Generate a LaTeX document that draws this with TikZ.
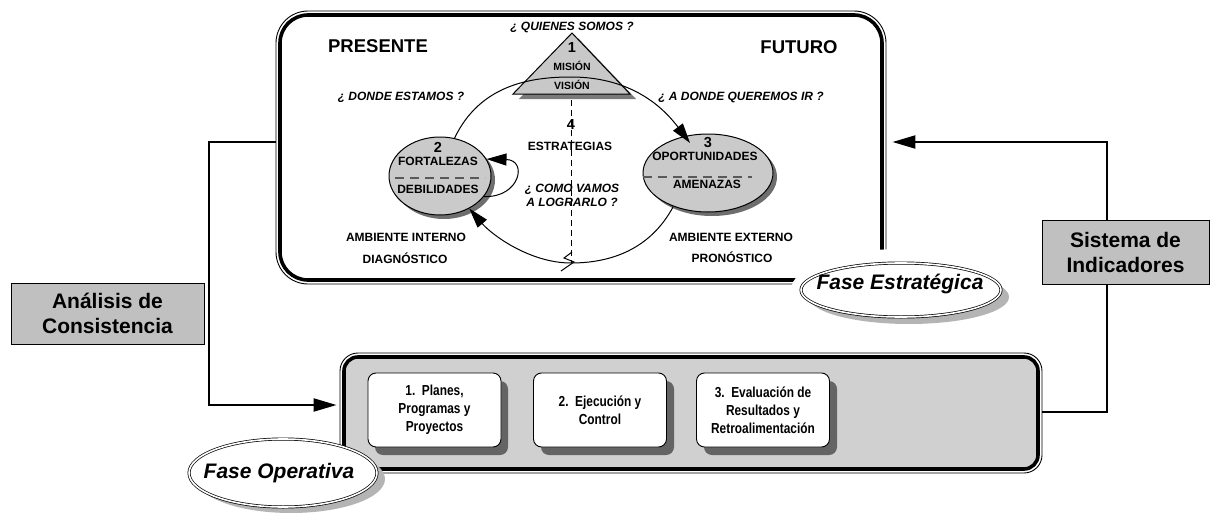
\documentclass[tikz,border=0pt]{standalone}
\usepackage{fontspec}
\setmainfont{Liberation Sans}
\newfontfamily\narrowsans[FakeStretch=0.82]{Liberation Sans}
\usetikzlibrary{arrows.meta,shapes.geometric}
\definecolor{opgray}{HTML}{D0D0D0}
\definecolor{lblgray}{HTML}{C0C0C0}
\definecolor{boxshadow}{HTML}{646464}
\definecolor{ovalgray}{HTML}{CACACA}
\definecolor{ovalshadow}{HTML}{6E6E6E}
\definecolor{fasshadow}{HTML}{B4B4B4}
\definecolor{trishadow}{HTML}{7A7A7A}
\definecolor{trigray}{HTML}{C8C8C8}
\begin{document}
\begin{tikzpicture}[x=1pt,y=-1pt,
  txt/.style={inner sep=0pt, align=center, font=\fontsize{12}{14}\selectfont\bfseries},
  qtxt/.style={inner sep=0pt, align=center, font=\fontsize{12}{14}\selectfont\bfseries\itshape},
  bigtxt/.style={inner sep=0pt, font=\fontsize{18.5}{20}\selectfont\bfseries},
  numtxt/.style={inner sep=0pt, font=\fontsize{14.5}{16}\selectfont\bfseries},
  smalltxt/.style={inner sep=0pt, font=\fontsize{10.5}{12}\selectfont\bfseries},
  fasetxt/.style={inner sep=0pt, font=\fontsize{21}{24}\selectfont\bfseries\itshape},
  lblbox/.style={draw, line width=1pt, fill=lblgray, inner sep=0pt, align=center, font=\fontsize{21}{25}\selectfont\bfseries},
  stepbox/.style={draw, line width=0.9pt, fill=white, rounded corners=8pt, minimum width=133pt, minimum height=74pt, inner sep=0pt, align=center, font=\narrowsans\fontsize{14.5}{18}\selectfont\bfseries},
  oval/.style={ellipse, draw, line width=1pt, fill=ovalgray, inner sep=0pt},
  arcarrow/.style={line width=1pt, -{Triangle[length=20pt,width=12pt]}},
  arcline/.style={line width=1pt},
  conn/.style={line width=2.2pt, -{Triangle[length=23pt,width=13pt]}},
  sepdash/.style={line width=1.1pt, black!65, dash pattern=on 9pt off 6pt},
  thinframe/.style={draw, line width=0.9pt, inner sep=0pt},
  thickframe/.style={draw, line width=3.6pt, inner sep=0pt},
  faseoval/.style={ellipse, draw, line width=0.7pt, double=white, double distance=1.6pt, fill=white, inner sep=0pt},
]
\useasboundingbox (0,0) rectangle (1211,514);

% strategic frame
\node[thinframe, rounded corners=32pt, minimum width=610pt, minimum height=273pt] (fsout) at (581,147.5) {};
\node[thickframe, fill=white, rounded corners=28pt, minimum width=602pt, minimum height=265pt] (fs) at (581,147.5) {};

% triangle
\coordinate (tA) at (572,33);
\coordinate (tB) at (630,94);
\coordinate (tC) at (513,94);
\fill[trishadow] ([shift={(6,5)}]tA) -- ([shift={(6,5)}]tB) -- ([shift={(6,5)}]tC) -- cycle;
\draw[line width=1pt, fill=trigray] (tA) -- (tB) -- (tC) -- cycle;

% dashed vertical
\coordinate (dtop) at (571,100);
\coordinate (bot) at (571,263);
\draw[line width=0.8pt, dash pattern=on 6pt off 4pt] (dtop) -- (bot);

% ovals 2 and 3
\fill[ovalshadow] (444,180) ellipse [x radius=51pt, y radius=39pt];
\node[oval, minimum width=102pt, minimum height=78pt] (e2) at (440,176) {};
\fill[ovalshadow] (712,177) ellipse [x radius=65pt, y radius=39pt];
\node[oval, minimum width=130pt, minimum height=78pt] (e3) at (708,173) {};
\draw[sepdash] (395,178) -- (485,178);
\draw[sepdash] (643,177) -- (752,177);

% cycle arcs
\coordinate (top) at (571,77);
\coordinate (t3) at (690,143);
\draw[arcline] (e2.69) .. controls (480,85) and (530,77) .. (top);
\draw[arcarrow] (top) .. controls (610,77) and (650,90) .. (t3);
\draw[arcline] (e3.224) .. controls (650,250) and (610,263) .. (bot);
\draw[arcarrow] (bot) .. controls (530,263) and (492,235) .. (e2.-48);
\draw[arcarrow] (e2.-25) .. controls (520,198) and (528,160) .. (e2.20);
\draw[arcline] (561,271) -- (574,262) -- (564,258) -- (572,252);

% texts in strategic frame
\node[bigtxt] (pres) at (378,46) {PRESENTE};
\node[bigtxt] (fut) at (799,47) {FUTURO};
\node[qtxt] (quien) at (572,27) {¿ QUIENES SOMOS ?};
\node[qtxt] (donde) at (401,97) {¿ DONDE ESTAMOS ?};
\node[qtxt] (adonde) at (741,97) {¿ A DONDE QUEREMOS IR ?};
\node[numtxt] (n1) at (572,48) {1};
\node[smalltxt] (mis) at (572,66) {MISIÓN};
\node[smalltxt] (vis) at (572,85) {VISIÓN};
\node[numtxt] (n4) at (571,125) {4};
\node[txt] (estr) at (570,146) {ESTRATEGIAS};
\node[qtxt] (como) at (572,195) {¿ COMO VAMOS\\A LOGRARLO ?};
\node[numtxt] (n2) at (438,147) {2};
\node[txt] (fort) at (438,161) {FORTALEZAS};
\node[txt] (deb) at (438,189) {DEBILIDADES};
\node[numtxt] (n3) at (708,143) {3};
\node[txt] (opo) at (705,156) {OPORTUNIDADES};
\node[txt] (ame) at (707,184) {AMENAZAS};
\node[txt] (ai) at (406,237) {AMBIENTE INTERNO};
\node[txt] (diag) at (405,258) {DIAGNÓSTICO};
\node[txt] (ae) at (731,237) {AMBIENTE EXTERNO};
\node[txt] (pron) at (732,257) {PRONÓSTICO};

% Fase Estrategica
\fill[white] (901,290) ellipse [x radius=110pt, y radius=41pt];
\fill[fasshadow] (909,297) ellipse [x radius=100pt, y radius=27pt];
\node[faseoval, minimum width=200pt, minimum height=54pt] (fes) at (901,290) {};
\node[fasetxt] (fest) at (900,284) {Fase Estratégica};

% operative frame
\node[thinframe, rounded corners=18pt, minimum width=702pt, minimum height=120pt] (foout) at (691,413) {};
\node[thickframe, fill=opgray, rounded corners=14pt, minimum width=694pt, minimum height=112pt] (fo) at (691,413) {};

% Fase Operativa oval
\fill[fasshadow] (291,479) ellipse [x radius=94pt, y radius=34pt];
\node[faseoval, minimum width=188pt, minimum height=68pt] (fop) at (283,473) {};
\node[fasetxt] (fopt) at (279,473) {Fase Operativa};

% step boxes
\fill[boxshadow, rounded corners=8pt] (375,381) rectangle (508,455);
\fill[boxshadow, rounded corners=8pt] (541,381) rectangle (674,455);
\fill[boxshadow, rounded corners=8pt] (704,381) rectangle (837,455);
\node[stepbox] (b1) at (434.5,410) {1.\ \ Planes,\\Programas y\\Proyectos};
\node[stepbox] (b2) at (600,410) {2.\ \ Ejecución y\\Control};
\node[stepbox] (b3) at (763,410) {3.\ \ Evaluación de\\Resultados y\\Retroalimentación};

% connectors
\coordinate (lc1) at (209,142);
\coordinate (lc2) at (209,405);
\draw[conn, shorten >=3pt] (fsout.west |- lc1) -- (lc1) -- (lc2) -- (foout.west |- lc2);
\coordinate (rc1) at (1107,412);
\coordinate (rc2) at (1107,142);
\draw[conn, shorten >=6pt] (foout.east |- rc1) -- (rc1) -- (rc2) -- (fsout.east |- rc2);

% label boxes
\node[lblbox, minimum width=193pt, minimum height=61pt] (ana) at (107.5,313.5) {Análisis de\\Consistencia};
\node[lblbox, minimum width=167pt, minimum height=64pt] (sis) at (1125.5,252) {Sistema de\\Indicadores};
\end{tikzpicture}
\end{document}
